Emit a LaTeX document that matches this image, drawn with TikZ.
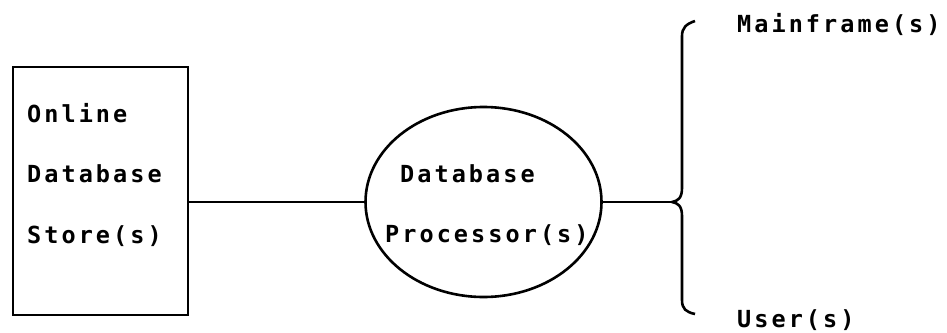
\documentclass[tikz,border=0pt]{standalone}
\usepackage{fontspec}
\usetikzlibrary{shapes.geometric}
\newfontfamily\typewriter[LetterSpace=13]{DejaVu Sans Mono Bold}
\begin{document}
\begin{tikzpicture}[x=1pt,y=-1pt,
  outline/.style={draw=black,line width=2.6pt},
  label/.style={anchor=base west,inner sep=0pt,font=\typewriter\fontsize{23.5}{23.5}\selectfont}]
\useasboundingbox (0,0) rectangle (947,332);
% storage box and processor ellipse
\node[outline,rectangle,minimum width=175pt,minimum height=248pt,inner sep=0pt] (store) at (100.5,191) {};
\node[outline,ellipse,minimum width=236pt,minimum height=190pt,inner sep=0pt] (proc) at (483.5,202) {};
% texts
\node[label] (t1) at (27,122) {Online};
\node[label] (t2) at (27,182) {Database};
\node[label] (t3) at (27,243) {Store(s)};
\node[label] (p1) at (400,182) {Database};
\node[label] (p2) at (385,242) {Processor(s)};
\node[label] (m) at (737,32) {Mainframe(s)};
\node[label] (u) at (737,327) {User(s)};
% brace fanning out to the clients
\coordinate (tip) at (672,202);
\draw[line width=2.6pt] (store.east |- tip) -- (proc.west);
\draw[line width=2.6pt] (proc.east) -- (tip);
\draw[line width=2.6pt,line join=round]
  (695,21) .. controls (686,24) and (682,28) .. (682,36)
  -- (682,188) .. controls (682,198) and (678,201) .. (tip)
  .. controls (678,203) and (682,206) .. (682,216)
  -- (682,300) .. controls (682,309) and (686,312) .. (695,314);
\end{tikzpicture}
\end{document}
